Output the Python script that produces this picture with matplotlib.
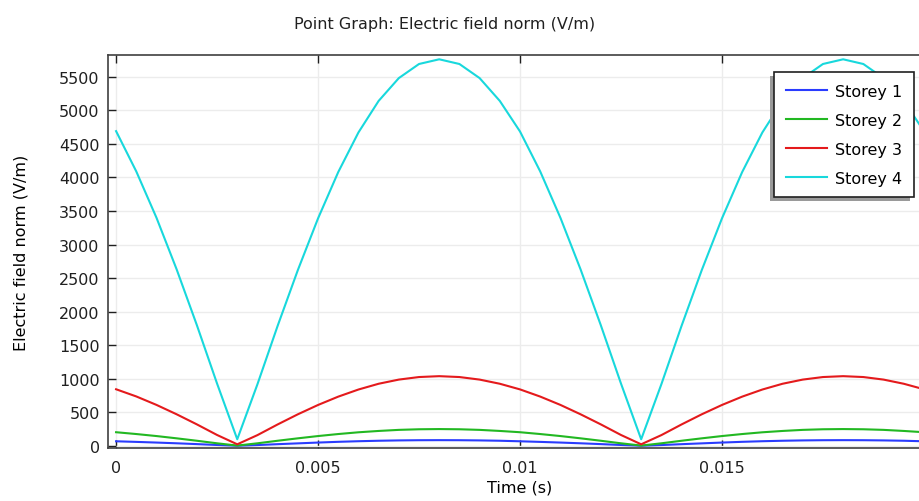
import matplotlib

matplotlib.use("Agg")
import matplotlib.pyplot as plt
from matplotlib.patches import Rectangle

# ---------------------------------------------------------------------------
# Data (time step 0.5 ms).
# ---------------------------------------------------------------------------
time_s = [
    0.0, 0.0005, 0.001, 0.0015, 0.002, 0.0025, 0.003, 0.0035, 0.004, 0.0045,
    0.005, 0.0055, 0.006, 0.0065, 0.007, 0.0075, 0.008, 0.0085, 0.009, 0.0095,
    0.01, 0.0105, 0.011, 0.0115, 0.012, 0.0125, 0.013, 0.0135, 0.014, 0.0145,
    0.015, 0.0155, 0.016, 0.0165, 0.017, 0.0175, 0.018, 0.0185, 0.019, 0.0195,
    0.02,
]
storey1 = [
    70, 61, 51, 40, 28, 15, 4, 14, 27, 39,
    51, 62, 71, 78, 83, 86, 87, 86, 83, 78,
    70, 61, 51, 40, 28, 15, 4, 14, 27, 39,
    51, 62, 71, 78, 83, 86, 87, 86, 83, 78,
    70,
]
storey2 = [
    205, 178, 148, 114, 78, 40, 6, 40, 78, 114,
    148, 178, 204, 224, 240, 249, 252, 249, 240, 224,
    205, 178, 148, 114, 78, 40, 6, 40, 78, 114,
    148, 178, 204, 224, 240, 249, 252, 249, 240, 224,
    205,
]
storey3 = [
    845, 738, 612, 472, 322, 164, 25, 162, 321, 472,
    611, 735, 841, 927, 989, 1027, 1040, 1027, 989, 927,
    843, 736, 612, 472, 322, 164, 25, 162, 321, 472,
    611, 735, 841, 927, 989, 1027, 1040, 1027, 989, 927,
    845,
]
storey4 = [
    4690, 4090, 3400, 2630, 1800, 930, 100, 920, 1790, 2620,
    3390, 4080, 4670, 5140, 5480, 5690, 5760, 5690, 5480, 5140,
    4685, 4090, 3400, 2630, 1800, 930, 100, 920, 1790, 2620,
    3390, 4080, 4670, 5140, 5480, 5690, 5760, 5690, 5480, 5140,
    4690,
]
series = [storey1, storey2, storey3, storey4]
labels = ["Storey 1", "Storey 2", "Storey 3", "Storey 4"]
colors = ["#2a3cff", "#22b822", "#e41a1c", "#18d8dc"]

x_ticks = [0, 0.005, 0.01, 0.015]
x_ticklabels = ["0", "0.005", "0.01", "0.015"]
y_ticks = list(range(0, 5501, 500))

W, H = 920, 502
FS = 11.5
plt.rcParams["font.family"] = "DejaVu Sans"
plt.rcParams["font.size"] = FS

fig = plt.figure(figsize=(W / 100, H / 100), dpi=100)
# axes run past the right edge of the picture, as in the reference
left, right, top, bottom = 108, 932, 56, 449
ax = fig.add_axes([left / W, 1 - bottom / H, (right - left) / W, (bottom - top) / H])

for vals, lab, col in zip(series, labels, colors):
    ax.plot(time_s, vals, color=col, lw=1.5, label=lab)

ax.set_xlim(-0.0002, 0.0202)
ax.set_ylim(-30, 5824)
ax.set_xticks(x_ticks)
ax.set_xticklabels(x_ticklabels)
ax.set_yticks(y_ticks)
ax.tick_params(direction="in", length=5.5, width=1, colors="#202020",
               labelsize=FS, top=True, right=True)
ax.tick_params(axis="x", pad=9)
ax.tick_params(axis="y", pad=6)
ax.grid(color="#ececec", lw=1)
ax.set_axisbelow(True)
for sp in ax.spines.values():
    sp.set_color("#404040")
    sp.set_linewidth(1.2)

ax.set_xlabel("Time (s)", fontsize=FS, labelpad=3)
ax.set_ylabel("Electric field norm (V/m)", fontsize=FS, labelpad=22)
fig.text(445 / W, 1 - 24 / H, "Point Graph: Electric field norm (V/m)",
         ha="center", va="center", fontsize=FS, color="#202020")

leg = ax.legend(loc="upper right", bbox_to_anchor=(914 / W, 1 - 73 / H),
                bbox_transform=fig.transFigure, fancybox=False, framealpha=1,
                edgecolor="#202020", fontsize=FS, handlelength=2.6,
                labelspacing=0.88, borderpad=0.72, handletextpad=0.5,
                borderaxespad=0)
leg.get_frame().set_linewidth(1.2)
leg.set_zorder(10)

# hand-made shadow, down and to the left of the legend box
fig.canvas.draw()
bb = leg.get_window_extent()
fig.patches.append(Rectangle((bb.x0 - 4, bb.y0 - 4), bb.width, bb.height,
                             transform=None, facecolor="#9a9a9a",
                             edgecolor="none", zorder=9))
leg.remove()
fig.legends.append(leg)
leg.set_figure(fig)

fig.savefig("out.png", dpi=100)
